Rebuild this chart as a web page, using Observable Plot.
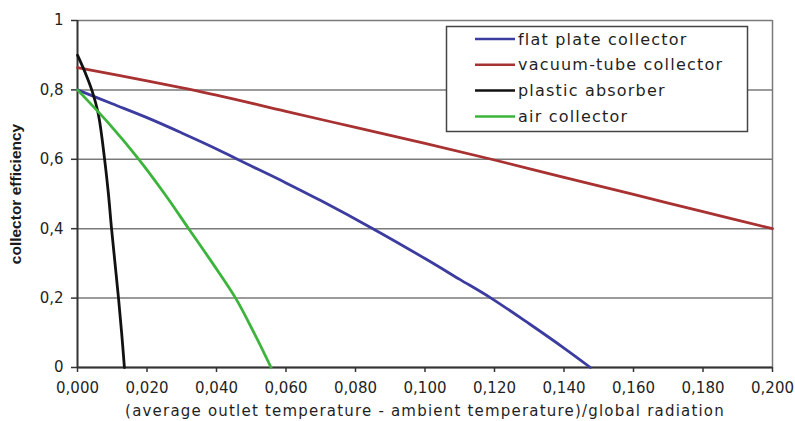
<!DOCTYPE html>
<html>
<head>
<meta charset="utf-8">
<script src="https://cdn.jsdelivr.net/npm/d3@7"></script>
<script src="https://cdn.jsdelivr.net/npm/@observablehq/plot@0.6"></script>
<style>
  body { margin: 0; background: #fff; }
  svg { display: block; }
</style>
</head>
<body>
<div id="chart"></div>
<script>
// ---- data ----
const seriesNames = ["flat plate collector", "vacuum-tube collector", "plastic absorber", "air collector"];
const seriesColors = ["#3c3ca0", "#a83232", "#111111", "#3cb43c"];

const flatX = [0, 0.01, 0.02, 0.03, 0.04, 0.046, 0.06, 0.07, 0.085, 0.1, 0.11, 0.119, 0.13, 0.14, 0.1476];
const flatY = [0.8, 0.76, 0.72, 0.676, 0.63, 0.6, 0.532, 0.481, 0.4, 0.314, 0.254, 0.2, 0.126, 0.056, 0];

const vacX = [0, 0.02, 0.04, 0.06, 0.08, 0.1, 0.12, 0.14, 0.16, 0.18, 0.2];
const vacY = [0.864, 0.826, 0.785, 0.738, 0.692, 0.646, 0.598, 0.548, 0.499, 0.449, 0.4];

const plasticX = [0, 0.0022, 0.0041, 0.006, 0.0078, 0.0089, 0.0098, 0.0108, 0.0118, 0.0127, 0.0135];
const plasticY = [0.9, 0.85, 0.8, 0.73, 0.6, 0.5, 0.4, 0.3, 0.2, 0.1, 0];

const airX = [0, 0.0093, 0.01765, 0.0251, 0.032, 0.0389, 0.0455, 0.0508, 0.0557];
const airY = [0.8, 0.7, 0.6, 0.5, 0.4, 0.3, 0.2, 0.1, 0];

const xTicks = [0, 0.02, 0.04, 0.06, 0.08, 0.1, 0.12, 0.14, 0.16, 0.18, 0.2];
const yTicks = [0, 0.2, 0.4, 0.6, 0.8, 1];

const xLabel = "(average outlet temperature - ambient temperature)/global radiation";
const yLabel = "collector efficiency";

// ---- build table ----
const seriesXY = [[flatX, flatY], [vacX, vacY], [plasticX, plasticY], [airX, airY]];
const rows = [];
seriesXY.forEach(([xs, ys], i) => {
  xs.forEach((x, j) => rows.push({series: seriesNames[i], x, y: ys[j]}));
});

const fmtX = d => d.toFixed(3).replace(".", ",");
const fmtY = d => (d === 0 ? "0" : d === 1 ? "1" : d.toFixed(1).replace(".", ","));

const svg = Plot.plot({
  width: 795,
  height: 421,
  marginLeft: 77,
  marginRight: 23,
  marginTop: 20,
  marginBottom: 54,
  style: {fontFamily: "'DejaVu Sans', sans-serif", fontSize: "15px", color: "#222", background: "#fff"},
  x: {domain: [0, 0.2]},
  y: {domain: [0, 1]},
  color: {domain: seriesNames, range: seriesColors},
  marks: [
    Plot.gridY(yTicks, {stroke: "#7a7a7a", strokeOpacity: 1, strokeWidth: 1.5}),
    Plot.ruleX([0.2], {stroke: "#7a7a7a", strokeWidth: 1.5}),
    Plot.axisY({ticks: yTicks, tickFormat: fmtY, tickSize: 6, tickPadding: 8, label: null, stroke: "#333", strokeWidth: 1.5, fill: "#1f1f1f"}),
    Plot.axisX({ticks: xTicks, tickFormat: fmtX, tickSize: 5, tickPadding: 10, label: null, stroke: "#333", strokeWidth: 1.5, fill: "#1f1f1f"}),
    Plot.ruleX([0], {stroke: "#333", strokeWidth: 2}),
    Plot.ruleY([0], {stroke: "#333", strokeWidth: 2}),
    Plot.line(rows, {x: "x", y: "y", z: "series", stroke: "series", strokeWidth: 2.8, curve: "catmull-rom"}),
    Plot.text([xLabel], {frameAnchor: "bottom", textAnchor: "middle", lineAnchor: "middle", dy: 44, fill: "#1f1f1f", fontSize: 15}),
    Plot.text([yLabel], {frameAnchor: "left", textAnchor: "middle", lineAnchor: "middle", rotate: -90, dx: -61, fill: "#1a1a1a", fontSize: 15.5, fontWeight: "bold", fontFamily: "'Liberation Sans', Arial, sans-serif"})
  ]
});

// widen the x-axis title a little, as in the reference
d3.select(svg).selectAll("text").filter(function () { return this.textContent === xLabel; })
  .attr("letter-spacing", "1.2px");

// legend inside the plot area
const lg = d3.select(svg).append("g").attr("text-anchor", "start");
lg.append("rect")
  .attr("x", 446.5).attr("y", 26.5).attr("width", 301).attr("height", 105)
  .attr("fill", "#fff").attr("stroke", "#444").attr("stroke-width", 1.5);
seriesNames.forEach((name, i) => {
  const y = 39 + i * 25.8;
  lg.append("line").attr("x1", 475).attr("x2", 515).attr("y1", y).attr("y2", y)
    .attr("stroke", seriesColors[i]).attr("stroke-width", 2.5);
  lg.append("text").attr("x", 518).attr("y", y).attr("dy", "0.35em")
    .attr("text-anchor", "start")
    .attr("fill", "#1f1f1f").attr("font-size", 16).attr("letter-spacing", "1.2px")
    .attr("font-family", "'DejaVu Sans', sans-serif")
    .text(name);
});

document.getElementById("chart").appendChild(svg);
</script>
</body>
</html>
